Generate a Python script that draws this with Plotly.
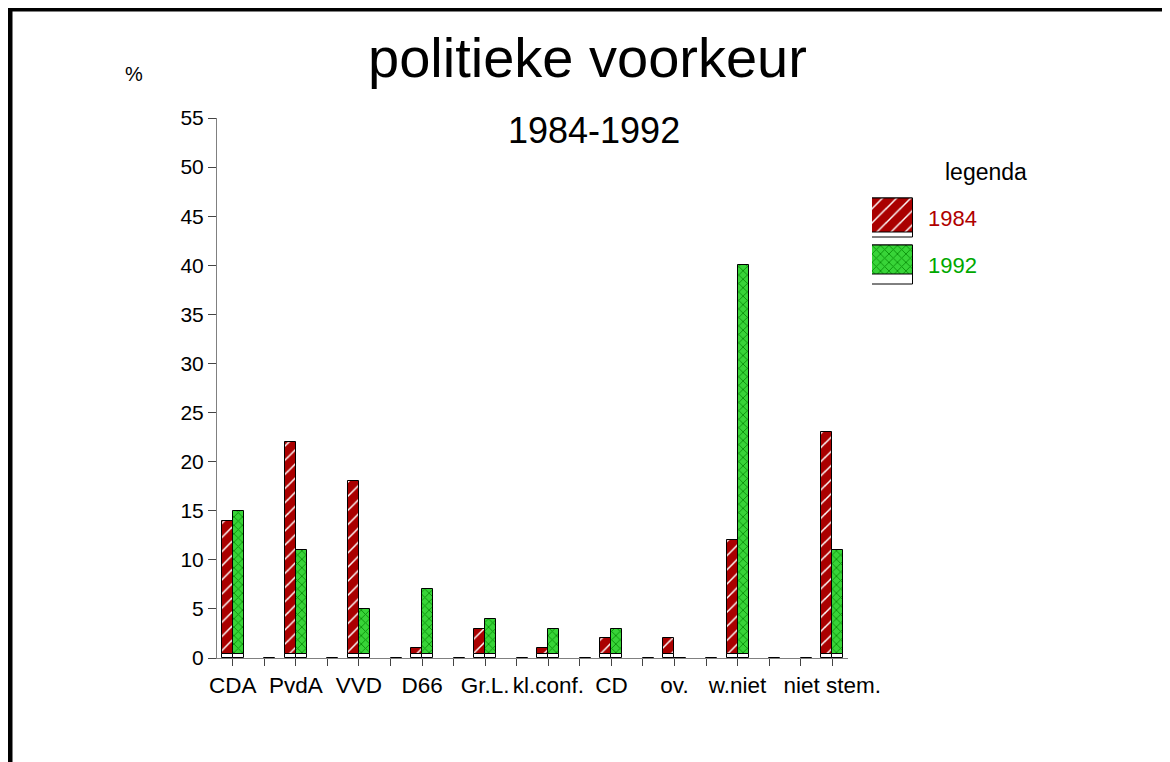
import plotly.graph_objects as go

# ---------------- data ----------------
categories = ["CDA", "", "PvdA", "", "VVD", "", "D66", "", "Gr.L.", "",
              "kl.conf.", "", "CD", "", "ov.", "", "w.niet", "", "", "niet stem."]
series_names = ["1984", "1992"]
values_1984 = [14, None, 22, None, 18, None, 1, None, 3, None,
               1, None, 2, None, 2, None, 12, None, None, 23]
values_1992 = [15, 0, 11, 0, 5, 0, 7, 0, 4, 0,
               3, 0, 3, 0, 0, 0, 40, 0, 0, 11]
y_ticks = list(range(0, 56, 5))

# ---------------- styling ----------------
FONT = "Liberation Sans, Arial, sans-serif"
RED_BG, RED_FG, RED_TXT = "#AA0000", "#FFFFFF", "#B00000"
GRN_BG, GRN_FG, GRN_TXT = "#38D438", "#0A920A", "#00A800"
BASE_H = 0.45          # white foot strip under every bar
PAGE_OFF = 8           # browser body margin
W = 1170 - PAGE_OFF
H = 762 - PAGE_OFF
PW, PH = 923, 540
ML, MT = 209, 110
MR = W - ML - PW
MB = H - MT - PH


def px_x(sx):
    """screen x -> paper x"""
    return (sx - PAGE_OFF - ML) / PW


def px_y(sy):
    """screen y -> paper y"""
    return (H - MB - (sy - PAGE_OFF)) / PH


def split(vals):
    foot = [None if v is None else min(v, BASE_H) for v in vals]
    top = [None if (v is None or v <= BASE_H) else v - BASE_H for v in vals]
    return foot, top


xs = list(range(len(categories)))
fig = go.Figure()

red_pat = dict(shape="/", bgcolor=RED_BG, fgcolor=RED_FG, size=10, solidity=0.15, fillmode="replace")
grn_pat = dict(shape="x", bgcolor=GRN_BG, fgcolor=GRN_FG, size=6, solidity=0.28, fillmode="replace")

specs = [
    (values_1984, -0.35, RED_BG, red_pat),
    (values_1992, 0.0, GRN_BG, grn_pat),
]
for vals, off, bg, pat in specs:
    foot, top = split(vals)
    fig.add_trace(go.Bar(
        x=xs, y=foot, offset=off, width=0.35,
        marker=dict(color="white", line=dict(color="black", width=1)),
        showlegend=False, xaxis="x", yaxis="y"))
    fig.add_trace(go.Bar(
        x=xs, y=top, base=BASE_H, offset=off, width=0.35,
        marker=dict(color=bg, line=dict(color="black", width=1), pattern=pat),
        showlegend=False, xaxis="x", yaxis="y"))

# legend swatches on their own small axes (white foot strip + patterned part)
SW = 0.81
for name, bg, pat, strip in [
    (series_names[0], RED_BG, red_pat, 0.09),
    (series_names[1], GRN_BG, grn_pat, 0.21),
]:
    fig.add_trace(go.Bar(
        y=[name], x=[1], orientation="h", width=SW, offset=-SW / 2,
        marker=dict(color="white", line=dict(color="black", width=1)),
        showlegend=False, xaxis="x2", yaxis="y2"))
    fig.add_trace(go.Bar(
        y=[name], x=[1], orientation="h", width=SW - strip, offset=-SW / 2,
        marker=dict(color=bg, line=dict(color="black", width=1), pattern=pat),
        showlegend=False, xaxis="x2", yaxis="y2"))

axis_col = "#808080"
fig.update_layout(
    width=W, height=H, autosize=False,
    margin=dict(l=ML, r=MR, t=MT, b=MB, autoexpand=False),
    paper_bgcolor="white", plot_bgcolor="white",
    barmode="overlay", bargap=0,
    font=dict(family=FONT, color="black", size=20),
    showlegend=False,
    xaxis=dict(domain=[0, 631 / PW], range=[-0.5, 19.5], automargin=False,
               tickmode="array", tickvals=xs, ticktext=categories, tickangle=0,
               ticks="outside", ticklen=7, tickcolor="#444",
               showline=True, linecolor=axis_col, linewidth=1,
               showgrid=False, zeroline=False,
               tickfont=dict(size=22.5, family=FONT, color="black")),
    yaxis=dict(domain=[0, 1], range=[0, 55], automargin=False,
               tickmode="array", tickvals=y_ticks,
               ticks="outside", ticklen=8, tickcolor="#444",
               showline=True, linecolor=axis_col, linewidth=1,
               showgrid=False, zeroline=False,
               tickfont=dict(size=21, family=FONT, color="black")),
    xaxis2=dict(domain=[px_x(872), px_x(913)], range=[0, 1], anchor="y2",
                visible=False, fixedrange=True, automargin=False),
    yaxis2=dict(domain=[px_y(288.5), px_y(194.5)], range=[1.5, -0.5],
                anchor="x2", type="category", visible=False, fixedrange=True,
                automargin=False,
                categoryorder="array", categoryarray=series_names),
)

ann = [
    dict(text="politieke voorkeur", x=px_x(587.5), y=px_y(57), size=56),
    dict(text="1984-1992", x=px_x(594), y=px_y(130), size=36),
    dict(text="%", x=px_x(133.5), y=px_y(74), size=20),
    dict(text="legenda", x=px_x(985.5), y=px_y(172), size=23),
]
for a in ann:
    fig.add_annotation(text=a["text"], x=a["x"], y=a["y"], xref="paper", yref="paper",
                       xanchor="center", yanchor="middle", showarrow=False,
                       font=dict(size=a["size"], family=FONT, color="black"))
for name, col, py in [(series_names[0], RED_TXT, 218), (series_names[1], GRN_TXT, 265)]:
    fig.add_annotation(text=name, x=px_x(926), y=px_y(py), xref="paper", yref="paper",
                       xanchor="left", yanchor="middle", showarrow=False,
                       font=dict(size=22, family=FONT, color=col))

# frame lines (top and left)
fig.add_shape(type="line", xref="paper", yref="paper",
              x0=px_x(8), x1=px_x(1180), y0=px_y(9), y1=px_y(9),
              line=dict(color="black", width=5))
fig.add_shape(type="line", xref="paper", yref="paper",
              x0=px_x(10), x1=px_x(10), y0=px_y(7), y1=px_y(775),
              line=dict(color="black", width=5))

fig.write_html("out.html")
